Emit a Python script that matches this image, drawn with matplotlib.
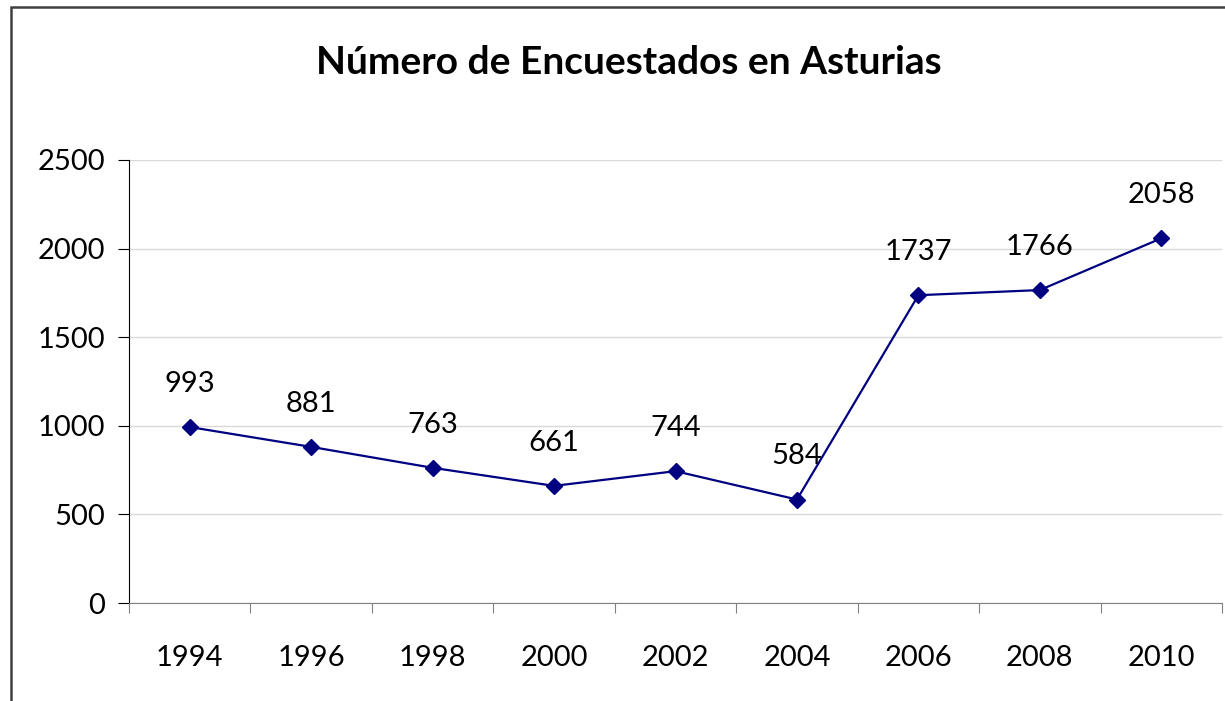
import matplotlib.pyplot as plt
from matplotlib.patches import Rectangle

# data
years = ["1994", "1996", "1998", "2000", "2002", "2004", "2006", "2008", "2010"]
respondents = [993, 881, 763, 661, 744, 584, 1737, 1766, 2058]
y_ticks = [0, 500, 1000, 1500, 2000, 2500]

plt.rcParams["font.family"] = ["Lato", "DejaVu Sans"]

fig = plt.figure(figsize=(12.25, 7.01), dpi=100)
ax = fig.add_axes([129 / 1225, 1 - 603 / 701, (1222 - 129) / 1225, (603 - 160) / 701])

xs = list(range(len(years)))
ax.plot(xs, respondents, color="#000080", linewidth=1.6, marker="D",
        markersize=8, markerfacecolor="#000080", markeredgecolor="#000080", zorder=3)

for x, v in zip(xs, respondents):
    ax.annotate(str(v), (x, v), xytext=(0, 31), textcoords="offset points",
                ha="center", va="center", fontsize=21, color="black")

ax.set_xlim(-0.5, len(years) - 0.5)
ax.set_ylim(0, 2500)
ax.set_yticks(y_ticks)
ax.set_yticklabels([str(t) for t in y_ticks], fontsize=21)
ax.yaxis.grid(True, color="#d9d9d9", linewidth=1)
ax.set_axisbelow(True)

# category labels centered, ticks on boundaries
ax.set_xticks([i - 0.5 for i in range(len(years) + 1)])
ax.set_xticklabels([])
ax.set_xticks(xs, minor=True)
ax.set_xticklabels(years, minor=True, fontsize=21)
ax.tick_params(axis="x", which="major", length=7, color="#808080", direction="out")
ax.tick_params(axis="x", which="minor", length=0, pad=30)
ax.tick_params(axis="y", length=8, color="black", pad=9)

ax.spines["top"].set_visible(False)
ax.spines["right"].set_visible(False)
ax.spines["left"].set_color("black")
ax.spines["bottom"].set_color("#808080")

fig.text(629 / 1225, 1 - 62 / 701, "Número de Encuestados en Asturias",
         ha="center", va="center", fontsize=28, fontweight="bold")

# outer chart frame
fig.patches.append(Rectangle((11 / 1225, -0.05), 1.2, 1 - 7 / 701 + 0.05,
                             transform=fig.transFigure, fill=False,
                             edgecolor="#404040", linewidth=1.8))

fig.savefig("out.png", dpi=100)
